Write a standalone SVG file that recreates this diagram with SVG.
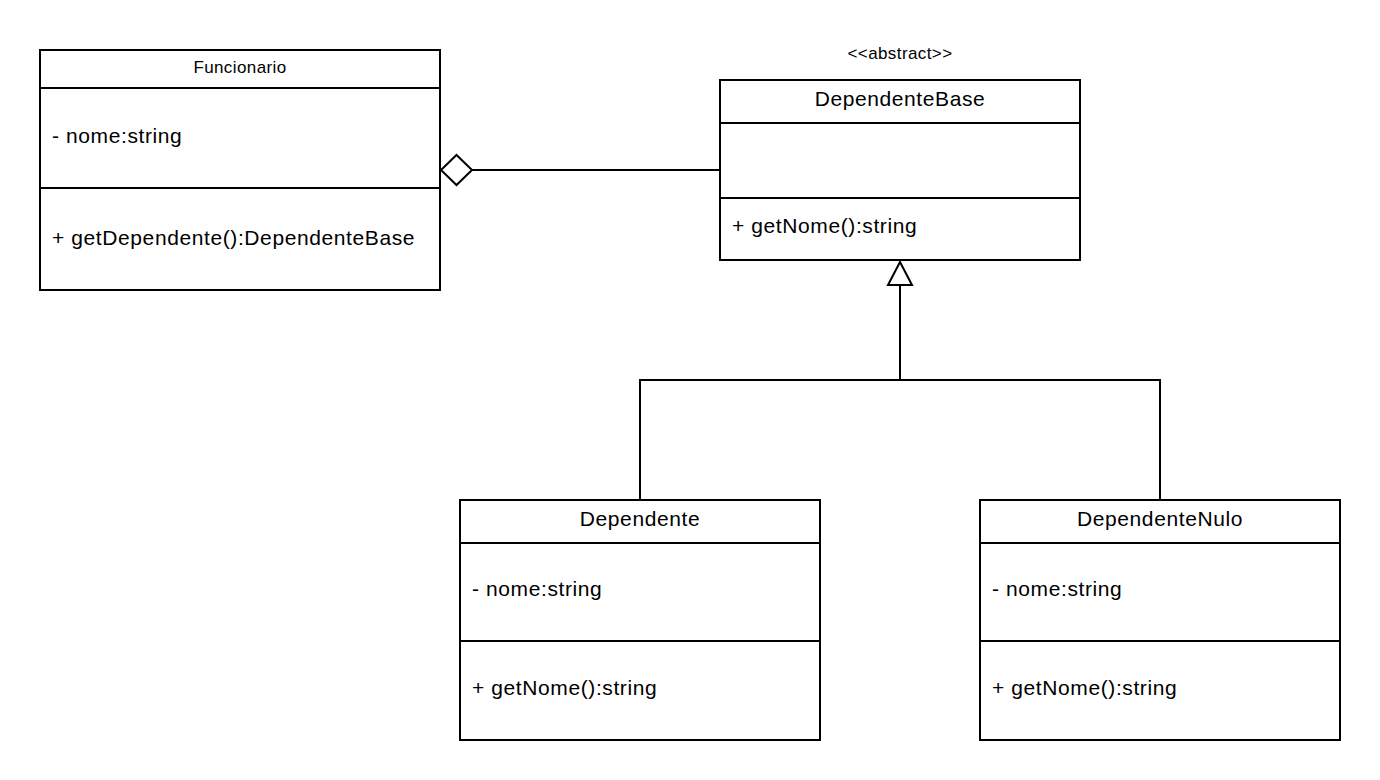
<svg xmlns="http://www.w3.org/2000/svg" width="1380" height="780" viewBox="0 0 1380 780">
<style>
.box{fill:#fff;stroke:#000;stroke-width:2}
.ln{stroke:#000;stroke-width:2;fill:none}
.t{font-family:"Liberation Sans",Arial,sans-serif;font-size:21px;letter-spacing:0.6px;fill:#000}
.s{font-family:"Liberation Sans",Arial,sans-serif;font-size:17px;letter-spacing:0.4px;fill:#000}
.c{text-anchor:middle}
</style>
<rect width="1380" height="780" fill="#fff"/>
<g id="connectors">
<path class="ln" d="M472 170 H720"/>
<path class="box" d="M441 170 L456.5 155 L472 170 L456.5 185 Z"/>
<path class="ln" d="M900 285 V380 M640 500 V380 H1160 V500"/>
<path class="box" d="M900 262 L912 285 H888 Z"/>
</g>
<g id="Funcionario">
<rect class="box" x="40" y="50" width="400" height="240"/>
<path class="ln" d="M40 88 H440 M40 188 H440"/>
<text class="s c" x="240" y="73">Funcionario</text>
<text class="t" x="52" y="143">- nome:string</text>
<text class="t" x="52" y="245">+ getDependente():DependenteBase</text>
</g>
<g id="DependenteBase">
<text class="s c" x="900" y="59">&lt;&lt;abstract&gt;&gt;</text>
<rect class="box" x="720" y="80" width="360" height="180"/>
<path class="ln" d="M720 123 H1080 M720 198 H1080"/>
<text class="t c" x="900" y="106">DependenteBase</text>
<text class="t" x="732" y="233">+ getNome():string</text>
</g>
<g id="Dependente">
<rect class="box" x="460" y="500" width="360" height="240"/>
<path class="ln" d="M460 543 H820 M460 641 H820"/>
<text class="t c" x="640" y="526">Dependente</text>
<text class="t" x="472" y="596">- nome:string</text>
<text class="t" x="472" y="695">+ getNome():string</text>
</g>
<g id="DependenteNulo">
<rect class="box" x="980" y="500" width="360" height="240"/>
<path class="ln" d="M980 543 H1340 M980 641 H1340"/>
<text class="t c" x="1160" y="526">DependenteNulo</text>
<text class="t" x="992" y="596">- nome:string</text>
<text class="t" x="992" y="695">+ getNome():string</text>
</g>
</svg>
